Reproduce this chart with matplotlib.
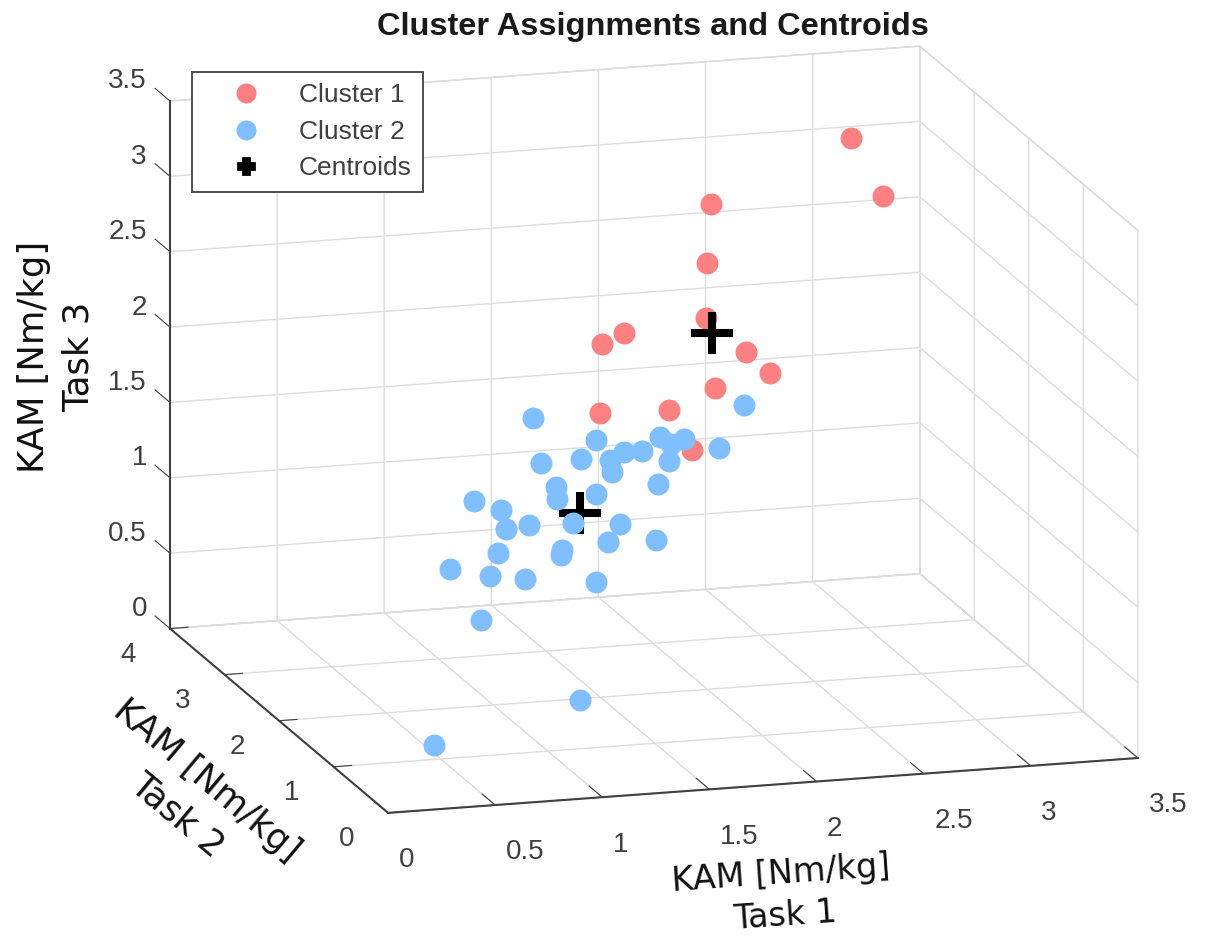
import matplotlib
matplotlib.use('Agg')
import matplotlib.pyplot as plt
from matplotlib.lines import Line2D

# values
red_x = [2.90, 3.10, 2.02, 2.00, 1.99, 1.34, 1.48, 2.24, 2.39, 2.05, 1.33, 1.76, 1.90]
red_y = [2.90, 3.10, 2.02, 2.00, 1.99, 1.34, 1.48, 2.24, 2.39, 2.05, 1.33, 1.76, 1.90]
red_z = [3.29, 2.82, 3.21, 2.83, 2.47, 2.56, 2.58, 2.14, 1.94, 1.98, 2.11, 1.95, 1.63]

blue_x = [2.23, 0.91, 1.30, 0.96, 1.21, 1.70, 1.77, 1.85, 1.48, 1.59, 1.39, 1.40,
          1.76, 2.07, 1.69, 0.54, 0.71, 1.05, 1.06, 1.30, 0.74, 0.88, 1.16, 1.45,
          1.38, 1.68, 0.69, 1.09, 1.08, 0.39, 0.64, 0.86, 1.30, 0.58, 1.20, 0.29]
blue_y = list(blue_x)
blue_z = [1.79, 2.25, 1.94, 1.93, 1.85, 1.80, 1.72, 1.72, 1.79, 1.75, 1.77, 1.69,
          1.61, 1.57, 1.49, 1.85, 1.72, 1.73, 1.65, 1.58, 1.58, 1.55, 1.45, 1.32,
          1.23, 1.12, 1.44, 1.30, 1.27, 1.46, 1.31, 1.20, 1.00, 1.04, 0.26, 0.33]

cent_x = [2.03, 1.20]
cent_y = [2.03, 1.20]
cent_z = [2.35, 1.50]

x_ticks = [0, 0.5, 1, 1.5, 2, 2.5, 3, 3.5]
y_ticks = [0, 1, 2, 3, 4]
z_ticks = [0, 0.5, 1, 1.5, 2, 2.5, 3, 3.5]

red = '#ff8080'
blue = '#80bfff'
dark = '#404040'
W, H = 1207, 936

plt.rcParams['font.family'] = ['Liberation Sans', 'DejaVu Sans']
plt.rcParams['grid.color'] = '#dddddd'
plt.rcParams['grid.linewidth'] = 1.0

fig = plt.figure(figsize=(W / 100, H / 100), dpi=100)
side = 882
ax = fig.add_axes([201 / W, 53.6 / H, side / W, side / H], projection='3d', computed_zorder=False)
ax.set_proj_type('ortho')
ax.view_init(elev=14.4, azim=-106.4)
ax.set_box_aspect((782, 773, 545), zoom=1.35)

ax.scatter(red_x, red_y, red_z, s=250, c=red, depthshade=False, linewidths=0, zorder=3)
ax.scatter(cent_x, cent_y, cent_z, s=900, c='black', marker='+', depthshade=False, linewidths=5.8, zorder=4)
ax.scatter(blue_x, blue_y, blue_z, s=250, c=blue, depthshade=False, linewidths=0, zorder=5)

ax.set_xlim(0, 3.5)
ax.set_ylim(0, 4)
ax.set_zlim(0, 3.5)
ax.set_xticks(x_ticks)
ax.set_yticks(y_ticks)
ax.set_zticks(z_ticks)
ax.set_xticklabels(['0', '0.5', '1', '1.5', '2', '2.5', '3', '3.5'], ha='left')
ax.set_yticklabels(['0', '1', '2', '3', '4'], ha='right', va='center')
ax.set_zticklabels(['0', '0.5', '1', '1.5', '2', '2.5', '3', '3.5'], ha='right', va='center')
ax.tick_params(labelsize=20, labelcolor=dark, colors=dark, width=1.2)
ax.tick_params(axis='x', pad=8)
ax.tick_params(axis='y', pad=7)
ax.tick_params(axis='z', pad=27)

# z ticks and their labels run along the y direction here, as in the original
ax.zaxis._get_tickdir = lambda pos: 1
ax.zaxis._axmask = lambda: [False, True, False]

for axis in (ax.xaxis, ax.yaxis, ax.zaxis):
    axis.set_pane_color((1, 1, 1, 1))
    axis.pane.set_edgecolor('#d4d4d4')
    axis.line.set_color(dark)
    axis.line.set_linewidth(1.5)
    axis._axinfo['tick']['inward_factor'] = 0.0
ax.xaxis._axinfo['tick']['outward_factor'] = 0.75
ax.yaxis._axinfo['tick']['outward_factor'] = 0.3
ax.zaxis._axinfo['tick']['outward_factor'] = 0.85

handles = [
    Line2D([], [], ls='', marker='o', ms=14.4, color=red, mew=0),
    Line2D([], [], ls='', marker='o', ms=14.4, color=blue, mew=0),
    Line2D([], [], ls='', marker='P', ms=12, color='black', mew=2),
]
leg = fig.legend(handles, ['Cluster 1', 'Cluster 2', 'Centroids'], loc='upper left',
                 bbox_to_anchor=(192 / W, 1 - 72 / H), fontsize=19, fancybox=False,
                 framealpha=1, edgecolor=dark, borderpad=0.42, labelspacing=0.48,
                 handletextpad=0.38, handlelength=3.24, borderaxespad=0)
leg.get_frame().set_linewidth(1.3)
for t in leg.get_texts():
    t.set_color(dark)

fig.text(653 / W, 1 - 27 / H, 'Cluster Assignments and Centroids', ha='center', va='center',
         fontsize=23.4, fontweight='bold', color='#1a1a1a')

lab = dict(family='DejaVu Sans', color='#111111', ha='center', va='center',
           rotation_mode='anchor', linespacing=1.4)
fig.text(781 / W, 1 - 874 / H, 'KAM [Nm/kg]', rotation=4, fontsize=24, **lab)
fig.text(785 / W, 1 - 916 / H, 'Task 1', rotation=4, fontsize=24, **lab)
fig.text(192 / W, 1 - 798 / H, 'KAM [Nm/kg]\nTask 2', rotation=-40, fontsize=25.5, **lab)
fig.text(56 / W, 1 - 357 / H, 'KAM [Nm/kg]\nTask 3', rotation=90, fontsize=25.5, **lab)

fig.savefig('out.png', dpi=100)
